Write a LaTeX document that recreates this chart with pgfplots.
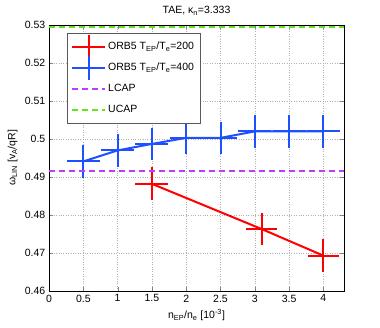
\documentclass[border=0pt]{standalone}
\usepackage{pgfplots}
\pgfplotsset{compat=1.18}
\usepackage{fontspec}
\setmainfont{Liberation Sans}
\definecolor{ored}{RGB}{255,0,0}
\definecolor{oblue}{RGB}{30,80,255}
\definecolor{lcap}{RGB}{190,60,255}
\definecolor{ucap}{RGB}{100,230,20}
\pgfplotsset{crossleg/.style={legend image code/.code={\draw[##1] (0pt,0pt)--(33pt,0pt); \draw[##1,overlay] (16.5pt,-12pt)--(16.5pt,12pt);}}}
\begin{document}
\fontsize{10.5}{12.5}\selectfont
\begin{tikzpicture}
\begin{axis}[
  scale only axis,
  width=295pt, height=266pt,
  xmin=0, xmax=4.3, ymin=0.46, ymax=0.53,
  xtick={0,0.5,...,4}, ytick={0.46,0.47,...,0.53},
  grid=major,
  major grid style={dotted, gray!60, line width=0.4pt},
  tick align=inside,
  /pgf/number format/assume math mode=true,
  yticklabel style={/pgf/number format/fixed},
  title={TAE, κ\textsubscript{n}=3.333},
  xlabel={n\textsubscript{EP}/n\textsubscript{e} [10\textsuperscript{-3}]},
  ylabel={ω\textsubscript{LIN} [v\textsubscript{A}/qR]},
  legend style={at={(0.061,0.97)}, anchor=north west, draw=gray!70!black, fill=white, font=\fontsize{10.5}{12.5}\selectfont, row sep=8pt, inner ysep=7pt, inner xsep=4pt},
  legend image code/.code={\draw[#1, dash pattern=on 6pt off 4pt] (0pt,0pt)--(33pt,0pt);},
  legend cell align=left,
]
\addplot[ored, line width=2pt, crossleg, error bars/.cd, x dir=both, y dir=both, x explicit, y explicit, error mark=none, error bar style={ored, line width=2pt}]
  coordinates {
  (1.5,0.4882) +- (0.24,0.0043)
  (3.1,0.4763) +- (0.23,0.0043)
  (4.0,0.4693) +- (0.23,0.0043)
};
\addlegendentry{ORB5 T\textsubscript{EP}/T\textsubscript{e}=200}
\addplot[oblue, line width=2pt, crossleg, error bars/.cd, x dir=both, y dir=both, x explicit, y explicit, error mark=none, error bar style={oblue, line width=2pt}]
  coordinates {
  (0.5,0.4941) +- (0.24,0.0043)
  (1.0,0.4970) +- (0.24,0.0043)
  (1.5,0.4987) +- (0.24,0.0043)
  (2.0,0.5003) +- (0.24,0.0043)
  (2.5,0.5003) +- (0.24,0.0043)
  (3.0,0.5020) +- (0.24,0.0043)
  (3.5,0.5020) +- (0.24,0.0043)
  (4.0,0.5020) +- (0.24,0.0043)
};
\addlegendentry{ORB5 T\textsubscript{EP}/T\textsubscript{e}=400}
\addplot[lcap, line width=2pt, dash pattern=on 6pt off 4pt] coordinates {(0,0.4917) (4.3,0.4917)};
\addlegendentry{LCAP}
\addplot[ucap, line width=2pt, dash pattern=on 6pt off 4pt] coordinates {(0,0.5295) (4.3,0.5295)};
\addlegendentry{UCAP}
\end{axis}
\path (current axis.south west) ++(-49pt,-37pt);
\path (current axis.north east) ++(36pt,25pt);
\end{tikzpicture}
\end{document}
